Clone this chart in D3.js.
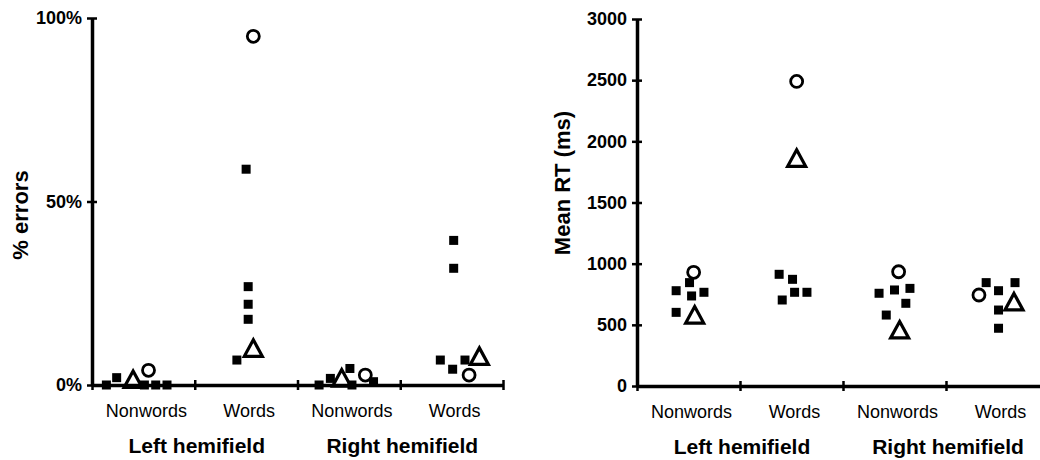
<!DOCTYPE html>
<html>
<head>
<meta charset="utf-8">
<script src="https://cdnjs.cloudflare.com/ajax/libs/d3/7.8.5/d3.min.js"></script>
<style>
  body { margin: 0; background: #fff; }
  text { font-family: "Liberation Sans", Arial, sans-serif; fill: #000; }
</style>
</head>
<body>
<svg id="chart" width="1040" height="460"></svg>
<script>
// conditions along the x axis (same for both panels)
var conditions = [0, 1, 2, 3];
var conditionLabels = ["Nonwords", "Words", "Nonwords", "Words"];
var hemifields = ["Left hemifield", "Right hemifield"];

// % errors panel
var errTicks = [0, 50, 100];
var errSquares = [[0, 2, 0, 0, 0], [58.8, 26.8, 22, 17.9, 6.8], [0, 1.8, 4.5, 0, 0.9], [39.4, 31.8, 6.8, 4.3, 6.8]];
var errSquareJitter = [[-36, -26, 1, 12, 23], [0, 2, 2, 2, -9], [-29, -18, 1, 3, 24], [2, 2, -11, 1, 13]];
var errCircle = [4, 95, 2.7, 2.7];
var errCircleJitter = [5, 7, 16, 17];
var errTriangle = [1.5, 10, 1.9, 7.8];
var errTriangleJitter = [-10, 7, -7, 27];

// mean RT panel
var rtTicks = [0, 500, 1000, 1500, 2000, 2500, 3000];
var rtSquares = [[845, 779, 766, 736, 602], [913, 872, 703, 766, 766], [758, 785, 798, 676, 580], [845, 779, 845, 621, 472]];
var rtSquareJitter = [[1, -12, 15, 3, -12], [-12, 1, -9, 3, 15], [-15, 0, 15, 11, -8], [-11, 1, 17, 1, 1]];
var rtCircle = [929, 2490, 934, 744];
var rtCircleJitter = [5, 5, 4, -18];
var rtTriangle = [580, 1861, 458, 687];
var rtTriangleJitter = [6, 5, 5, 16];

// jitter is in percent of the band width
function makePoints(squares, sqJit, circle, cJit, triangle, tJit) {
  var pts = [];
  conditions.forEach(function(c) {
    squares[c].forEach(function(v, i) {
      pts.push({ cond: c, value: v, jitter: sqJit[c][i], shape: "square" });
    });
    pts.push({ cond: c, value: circle[c], jitter: cJit[c], shape: "circle" });
    pts.push({ cond: c, value: triangle[c], jitter: tJit[c], shape: "triangle" });
  });
  return pts;
}

var svg = d3.select("#chart");

function drawPanel(o) {
  var g = svg.append("g");

  var y = d3.scaleLinear().domain([0, o.yMax]).range([o.bottom, o.top]);
  var x = d3.scaleBand().domain(conditions).range([o.left, o.right]).padding(0);
  var bx = d3.scaleLinear().domain([0, conditions.length]).range([o.left, o.right]);

  // y axis
  var yAxis = g.append("g")
    .attr("transform", "translate(" + o.left + ",0)")
    .call(d3.axisLeft(y).tickValues(o.ticks).tickSize(4).tickSizeOuter(0).tickPadding(6).tickFormat(o.format));
  yAxis.select(".domain").attr("stroke-width", 3.5);
  yAxis.selectAll(".tick line").attr("x1", -5).attr("x2", 5).attr("stroke-width", 2.5);
  yAxis.selectAll(".tick text")
    .attr("font-size", 18)
    .attr("font-weight", "bold")
    .attr("font-family", "Liberation Sans, Arial, sans-serif");

  // x axis line with ticks on band boundaries
  var xAxis = g.append("g")
    .attr("transform", "translate(0," + o.bottom + ")")
    .call(d3.axisBottom(bx).tickValues(d3.range(conditions.length + 1)).tickFormat("").tickSize(4).tickSizeOuter(0));
  xAxis.select(".domain").attr("stroke-width", 3.5);
  xAxis.selectAll(".tick line").attr("y1", -5).attr("y2", 5).attr("stroke-width", 2.5);

  // category labels
  var catAxis = g.append("g")
    .attr("transform", "translate(0," + o.bottom + ")")
    .call(d3.axisBottom(x).tickSize(0).tickFormat(function(i) { return conditionLabels[i]; }));
  catAxis.select(".domain").remove();
  catAxis.selectAll(".tick text")
    .attr("y", 32)
    .attr("dy", 0)
    .attr("dx", 3)
    .attr("font-size", 18)
    .attr("font-family", "Liberation Sans, Arial, sans-serif");

  // hemifield labels, centred on each pair of conditions
  g.selectAll(".group")
    .data(hemifields)
    .enter()
    .append("text")
    .attr("x", function(d, i) { return bx(i * 2 + 1) + 2; })
    .attr("y", o.bottom + 68)
    .attr("text-anchor", "middle")
    .attr("font-size", 21)
    .attr("font-weight", "bold")
    .text(function(d) { return d; });

  // y title
  g.append("text")
    .attr("transform", "translate(" + o.titleX + "," + o.titleY + ") rotate(-90)")
    .attr("text-anchor", "middle")
    .attr("dy", "0.35em")
    .attr("font-size", 22)
    .attr("font-weight", "bold")
    .text(o.title);

  var px = function(d) { return x(d.cond) + x.bandwidth() / 2 + d.jitter / 100 * x.bandwidth(); };

  g.selectAll(".sq")
    .data(o.points.filter(function(d) { return d.shape === "square"; }))
    .enter()
    .append("rect")
    .attr("x", function(d) { return px(d) - 4.5; })
    .attr("y", function(d) { return y(d.value) - 4.5; })
    .attr("width", 9)
    .attr("height", 9)
    .attr("fill", "#000");

  g.selectAll(".circ")
    .data(o.points.filter(function(d) { return d.shape === "circle"; }))
    .enter()
    .append("circle")
    .attr("cx", px)
    .attr("cy", function(d) { return y(d.value); })
    .attr("r", 6)
    .attr("fill", "none")
    .attr("stroke", "#000")
    .attr("stroke-width", 2.8);

  g.selectAll(".tri")
    .data(o.points.filter(function(d) { return d.shape === "triangle"; }))
    .enter()
    .append("path")
    .attr("transform", function(d) { return "translate(" + px(d) + "," + y(d.value) + ")"; })
    .attr("d", "M0,-8.5L9,8L-9,8Z")
    .attr("fill", "none")
    .attr("stroke", "#000")
    .attr("stroke-width", 3.2)
    .attr("stroke-linejoin", "miter");
}

drawPanel({
  left: 92, right: 503, top: 18, bottom: 385,
  yMax: 100, ticks: errTicks,
  format: function(d) { return d + "%"; },
  title: "% errors", titleX: 20, titleY: 215,
  points: makePoints(errSquares, errSquareJitter, errCircle, errCircleJitter, errTriangle, errTriangleJitter)
});

drawPanel({
  left: 637, right: 1049, top: 19, bottom: 386,
  yMax: 3000, ticks: rtTicks,
  format: function(d) { return d; },
  title: "Mean RT (ms)", titleX: 562, titleY: 183,
  points: makePoints(rtSquares, rtSquareJitter, rtCircle, rtCircleJitter, rtTriangle, rtTriangleJitter)
});
</script>
</body>
</html>
